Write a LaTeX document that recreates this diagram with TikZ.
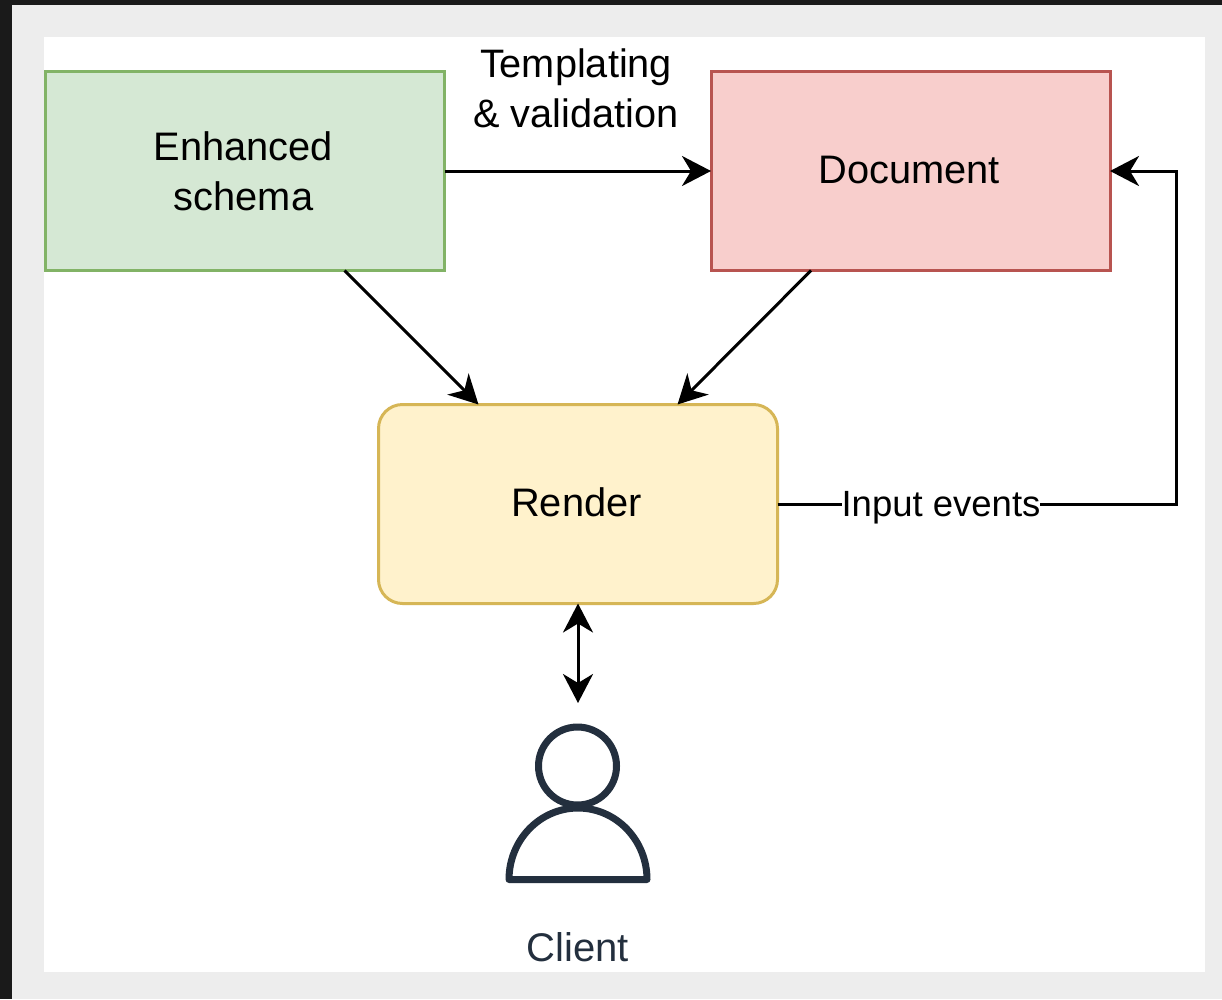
\documentclass[tikz,border=0pt]{standalone}
\usepackage{fontspec}
\setmainfont{Liberation Sans}
\usetikzlibrary{arrows.meta}
\definecolor{frameblack}{HTML}{1A1A1A}
\definecolor{pagegray}{HTML}{EDEDED}
\definecolor{greenfill}{HTML}{D5E8D4}
\definecolor{greenline}{HTML}{82B366}
\definecolor{redfill}{HTML}{F8CECC}
\definecolor{redline}{HTML}{B85450}
\definecolor{yellowfill}{HTML}{FFF2CC}
\definecolor{yellowline}{HTML}{D6B656}
\definecolor{slateicon}{HTML}{232F3E}
\tikzset{
  x=1pt,y=-1pt,
  >={Stealth[length=29pt,width=30pt,inset=9pt]},
  boxbase/.style={minimum width=399pt,minimum height=199pt,line width=3pt,inner sep=0pt,outer sep=0pt,align=center,
    font=\fontsize{39.8}{50}\selectfont},
  conn/.style={line width=3pt,black,->},
  plainlabel/.style={inner sep=0pt,align=center,text=black,font=\fontsize{39.7}{50}\selectfont},
  iconline/.style={line width=7pt,draw=slateicon,line join=round},
}
\begin{document}
\begin{tikzpicture}
\useasboundingbox (0,0) rectangle (1222,999);
\fill[frameblack] (0,0) rectangle (1222,999);
\fill[pagegray] (12,5) rectangle (1222,999);
\fill[white] (44,37) rectangle (1205,972);
\node[boxbase,draw=greenline,fill=greenfill] (schema) at (245,171) {\hspace*{-3pt}Enhanced\\\hspace*{-3pt}schema};
\node[boxbase,draw=redline,fill=redfill] (doc) at (910.5,171) {\raisebox{2pt}{\hspace*{-3pt}Document}};
\node[boxbase,draw=yellowline,fill=yellowfill,rounded corners=24pt] (render) at (578,504) {\raisebox{3pt}{\hspace*{-3pt}Render}};
\node[plainlabel] (tmpl) at (576,88) {Templating\\\& validation};
\node[inner sep=0pt,outer sep=0pt,fill=white,font=\fontsize{36.5}{42}\selectfont] (events) at (941,508) {Input events};
\coordinate (routecorner) at (1176,504);
\coordinate (routetop) at (1176,171);
\coordinate (clienttop) at (578,703);
\draw[conn] (schema.east) -- (doc.west);
\draw[conn] ([xshift=-100pt]schema.south east) -- ([xshift=100pt]render.north west);
\draw[conn] ([xshift=100pt]doc.south west) -- ([xshift=-100pt]render.north east);
\draw[line width=3pt] (render.east) -- (events.west |- render.east);
\draw[conn] (events.east |- render.east) -- (routecorner) -- (routetop) -- (doc.east);
\draw[conn,<->] (render.south) -- (clienttop);
\draw[iconline] (577.5,766) circle[radius=39];
\draw[iconline] (509,879.5) arc[start angle=180,end angle=0,x radius=69,y radius=-71.5] -- cycle;
\node[inner sep=0pt,text=slateicon,font=\fontsize{40}{48}\selectfont] (client) at (578,947) {Client};
\end{tikzpicture}
\end{document}
